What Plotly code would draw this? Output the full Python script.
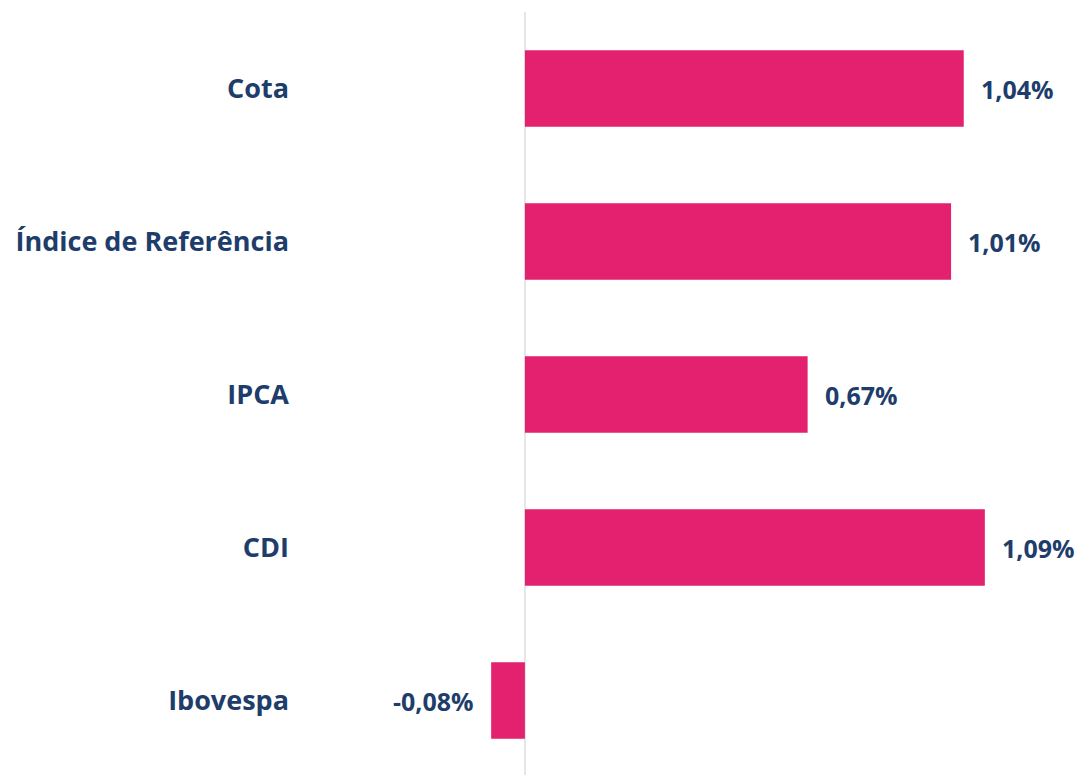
import plotly.graph_objects as go

categories = ["Cota", "Índice de Referência", "IPCA", "CDI", "Ibovespa"]
values = [1.04, 1.01, 0.67, 1.09, -0.08]
labels = ["1,04%", "1,01%", "0,67%", "1,09%", "-0,08%"]

BAR = "#E3216F"
TXT = "#1E3D6B"
FONT = "Open Sans"

fig = go.Figure()
fig.add_trace(go.Bar(
    x=values, y=categories, orientation="h",
    marker=dict(color=BAR, line=dict(width=0)),
    width=0.5, hoverinfo="skip",
))

for c, v, t in zip(categories, values, labels):
    fig.add_annotation(
        x=v, y=c, text=t, showarrow=False,
        xanchor="left" if v >= 0 else "right",
        xshift=15 if v >= 0 else -15,
        font=dict(family=FONT, size=25, color=TXT, weight=700),
    )

fig.update_layout(
    width=1084, height=777,
    margin=dict(l=300, r=0, t=12, b=0),
    paper_bgcolor="white", plot_bgcolor="white",
    showlegend=False,
    xaxis=dict(range=[-0.533, 1.325], showgrid=False, showticklabels=False,
               zeroline=True, zerolinecolor="#E6E6E6", zerolinewidth=2,
               showline=False, fixedrange=True),
    yaxis=dict(autorange="reversed", showgrid=False, zeroline=False,
               ticks="", ticklabelstandoff=10,
               tickfont=dict(family=FONT, size=27, color=TXT, weight=700)),
)

fig.write_html("out.html")
